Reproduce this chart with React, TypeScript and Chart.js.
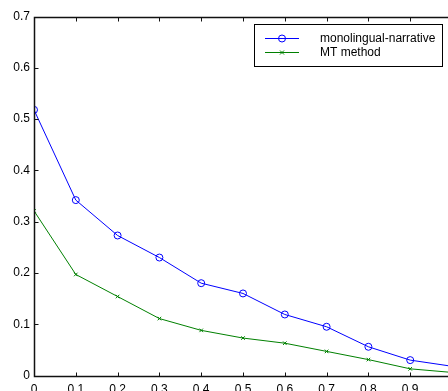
import React, { useEffect, useRef } from "react";
import { Chart, registerables } from "chart.js";

Chart.register(...registerables);

const xValues = [0, 0.1, 0.2, 0.3, 0.4, 0.5, 0.6, 0.7, 0.8, 0.9, 1.0];
const narrative = [0.518, 0.342, 0.273, 0.23, 0.18, 0.16, 0.119, 0.095, 0.056, 0.03, 0.018];
const mtMethod = [0.321, 0.197, 0.154, 0.111, 0.088, 0.073, 0.063, 0.047, 0.031, 0.013, 0.006];
const seriesLabels = ["monolingual-narrative", "MT method"];
const seriesColors = ["#0000ff", "#008000"];
const xTicks = [0, 0.1, 0.2, 0.3, 0.4, 0.5, 0.6, 0.7, 0.8, 0.9, 1.0];
const yTicks = [0, 0.1, 0.2, 0.3, 0.4, 0.5, 0.6, 0.7];

const FONT = "'Liberation Sans', Arial, sans-serif";
const CANVAS_W = 480;
const CANVAS_H = 391;

const fmt = (v: number) => String(Number(v.toFixed(1)));

const framePlugin = {
  id: "matlabFrame",
  afterDatasetsDraw(chart: any) {
    const { ctx, chartArea } = chart;
    const xs = chart.scales.x;
    const ys = chart.scales.y;
    const L = Math.round(chartArea.left) + 0.5;
    const R = Math.round(chartArea.right) + 0.5;
    const T = Math.round(chartArea.top) + 0.5;
    const B = Math.round(chartArea.bottom) + 0.5;
    ctx.save();
    ctx.strokeStyle = "#111";
    ctx.lineWidth = 1.5;
    ctx.strokeRect(L, T, R - L, B - T);
    ctx.beginPath();
    ctx.lineWidth = 1;
    const tl = 4;
    xTicks.forEach((v) => {
      const px = Math.round(xs.getPixelForValue(v)) + 0.5;
      ctx.moveTo(px, B);
      ctx.lineTo(px, B - tl);
      ctx.moveTo(px, T);
      ctx.lineTo(px, T + tl);
    });
    yTicks.forEach((v) => {
      const py = Math.round(ys.getPixelForValue(v)) + 0.5;
      ctx.moveTo(L, py);
      ctx.lineTo(L + tl, py);
      ctx.moveTo(R, py);
      ctx.lineTo(R - tl, py);
    });
    ctx.stroke();
    ctx.restore();
  },
  afterDraw(chart: any) {
    const { ctx } = chart;
    const bx = 254.5, by = 24.5, bw = 188, bh = 42;
    ctx.save();
    ctx.fillStyle = "#fff";
    ctx.fillRect(bx, by, bw, bh);
    ctx.strokeStyle = "#000";
    ctx.lineWidth = 1;
    ctx.strokeRect(bx, by, bw, bh);
    const rows = [38.5, 52.5];
    rows.forEach((ry, i) => {
      ctx.strokeStyle = seriesColors[i];
      ctx.lineWidth = 1;
      ctx.beginPath();
      ctx.moveTo(265, ry);
      ctx.lineTo(299, ry);
      ctx.stroke();
      ctx.beginPath();
      if (i === 0) {
        ctx.arc(282, ry, 3.5, 0, Math.PI * 2);
      } else {
        const r = 2;
        ctx.moveTo(282 - r, ry - r);
        ctx.lineTo(282 + r, ry + r);
        ctx.moveTo(282 - r, ry + r);
        ctx.lineTo(282 + r, ry - r);
      }
      ctx.stroke();
      ctx.fillStyle = "#000";
      ctx.font = `12px ${FONT}`;
      ctx.textBaseline = "middle";
      ctx.textAlign = "left";
      ctx.fillText(seriesLabels[i], 320, ry);
    });
    ctx.restore();
  },
};

export default function App() {
  const ref = useRef<HTMLCanvasElement | null>(null);
  useEffect(() => {
    if (!ref.current) return;
    const chart = new Chart(ref.current, {
      type: "line",
      data: {
        datasets: [
          {
            label: seriesLabels[0],
            data: xValues.map((x, i) => ({ x, y: narrative[i] })),
            borderColor: seriesColors[0],
            backgroundColor: "rgba(0,0,0,0)",
            borderWidth: 1,
            pointStyle: "circle",
            pointRadius: 3.5,
            pointBorderWidth: 1,
            pointBorderColor: seriesColors[0],
            pointBackgroundColor: "rgba(0,0,0,0)",
            tension: 0,
          },
          {
            label: seriesLabels[1],
            data: xValues.map((x, i) => ({ x, y: mtMethod[i] })),
            borderColor: seriesColors[1],
            backgroundColor: "rgba(0,0,0,0)",
            borderWidth: 1,
            pointStyle: "crossRot",
            pointRadius: 2.5,
            pointBorderWidth: 1,
            pointBorderColor: seriesColors[1],
            tension: 0,
          },
        ],
      },
      options: {
        animation: false,
        responsive: false,
        devicePixelRatio: 1,
        layout: { padding: { left: 0, top: 16.5, right: 28, bottom: 0 } },
        plugins: { legend: { display: false }, tooltip: { enabled: false } },
        scales: {
          x: {
            type: "linear",
            min: 0,
            max: 1,
            afterBuildTicks: (s: any) => {
              s.ticks = xTicks.map((v) => ({ value: v }));
            },
            afterFit: (s: any) => {
              s.height = 15.5;
            },
            ticks: {
              callback: (v: any) => fmt(Number(v)),
              color: "#000",
              font: { family: FONT, size: 12 },
              padding: 7,
              maxRotation: 0,
              autoSkip: false,
            },
            grid: { display: false, drawTicks: false },
            border: { display: false },
          },
          y: {
            type: "linear",
            min: 0,
            max: 0.7,
            afterBuildTicks: (s: any) => {
              s.ticks = yTicks.map((v) => ({ value: v }));
            },
            afterFit: (s: any) => {
              s.width = 34;
            },
            ticks: {
              callback: (v: any) => fmt(Number(v)),
              color: "#000",
              font: { family: FONT, size: 12 },
              padding: 4,
              autoSkip: false,
            },
            grid: { display: false, drawTicks: false },
            border: { display: false },
          },
        },
      },
      plugins: [framePlugin],
    });
    return () => chart.destroy();
  }, []);
  return (
    <div
      style={{
        position: "fixed",
        left: 0,
        top: 0,
        width: 448,
        height: 391,
        overflow: "hidden",
        background: "#fff",
      }}
    >
      <canvas ref={ref} width={CANVAS_W} height={CANVAS_H} style={{ display: "block", width: CANVAS_W, height: CANVAS_H }} />
    </div>
  );
}
